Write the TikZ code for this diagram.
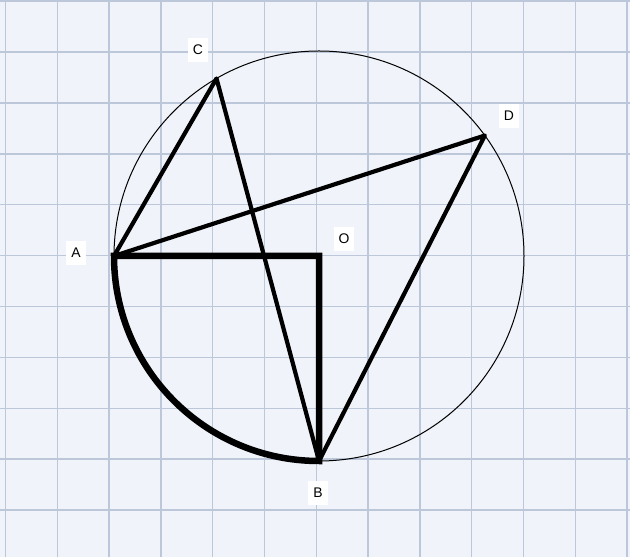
\documentclass[tikz,border=0pt]{standalone}
\usepackage{fontspec}
\setmainfont{Liberation Sans}
\usetikzlibrary{calc}
\definecolor{gpPaper}{HTML}{F0F3F9}
\definecolor{gpRule}{HTML}{BCC7DA}
\begin{document}
\begin{tikzpicture}[
  x=1bp, y=1bp,
  font=\fontsize{14}{16}\selectfont,
  rule/.style={draw=gpRule, line width=1.5bp},
  rim/.style={draw=black, line width=1bp},
  chord/.style={draw=black, line width=4.2bp, line join=round},
  spoke/.style={draw=black, line width=6.5bp, line join=miter},
  ptlabel/.style={fill=white, inner sep=2bp, minimum width=20bp, minimum height=24bp},
]

% ── Squared paper ────────────────────────────────────────────────────────────
\fill[gpPaper] (0,0) rectangle (630,557);
\useasboundingbox (0,0) rectangle (630,557);
\foreach \k in {0,...,12}{ \draw[rule] ({5.5+51.8*\k},0) -- ++(0,557); }
\foreach \k in {0,...,10}{ \draw[rule] (0,{555.9-50.9*\k}) -- ++(630,0); }

% ── Centre and points on the circle (radius 205) ─────────────────────────────
\coordinate (O) at (319,301);
\coordinate (A) at ($(O)+(180:205)$);
\coordinate (B) at ($(O)+(270:205)$);
\coordinate (C) at ($(O)+(120:205)$);
\coordinate (D) at ($(O)+( 36:205)$);

% ── Circle, quarter sector, chords ───────────────────────────────────────────
\draw[rim] (O) circle (205);
\draw[spoke] (A) arc (180:270:205) -- (O) -- cycle;
\draw[chord] (A) -- (C) -- (B) -- (D) -- cycle;

% ── Labels ───────────────────────────────────────────────────────────────────
\node[ptlabel] (lA) at ( 76,304) {A};
\node[ptlabel] (lB) at (318, 64) {B};
\node[ptlabel] (lC) at (198,507) {C};
\node[ptlabel] (lD) at (509,441) {D};
\node[ptlabel] (lO) at (344,318) {O};

\end{tikzpicture}
\end{document}
